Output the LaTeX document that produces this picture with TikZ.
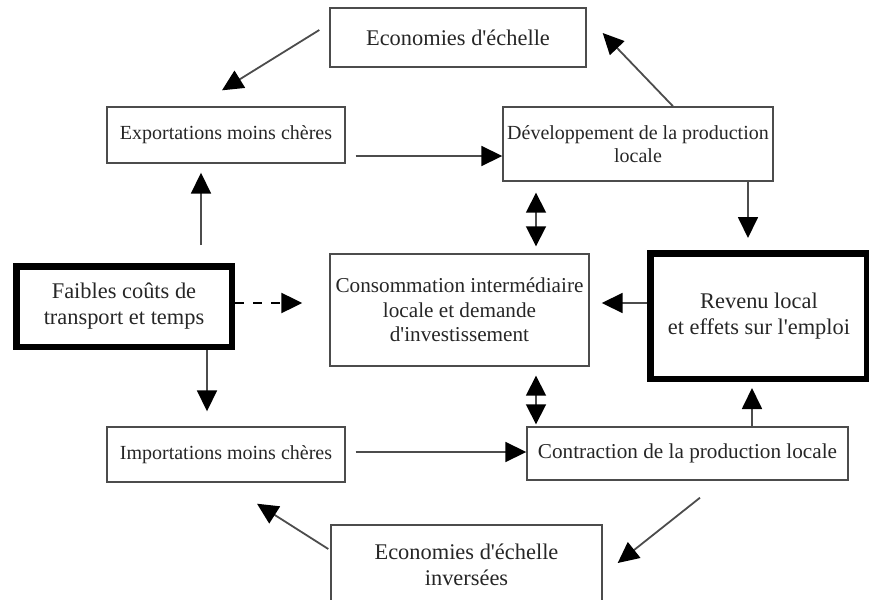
\documentclass[tikz,border=0pt]{standalone}
\usepackage{fontspec}
\setmainfont{Liberation Serif}
\usetikzlibrary{positioning,arrows.meta,calc}
\newcommand{\apos}{\textquotesingle}

\begin{document}
\begin{tikzpicture}[
  x=0.5pt, y=-0.5pt,
  box/.style={draw=black!70,line width=0.7pt,align=center,inner sep=1pt,text=black!85},
  thickbox/.style={draw=black,line width=3.25pt,align=center,inner sep=1pt,text=black!85},
  small/.style={font=\fontsize{10}{11.5}\selectfont},
  medium/.style={font=\fontsize{10.6}{12.2}\selectfont},
  large/.style={font=\fontsize{11.2}{13}\selectfont},
  arr/.style={draw=black!70,line width=0.9pt,-{Triangle[length=10.5pt,width=10pt,color=black]}},
  dbl/.style={draw=black!70,line width=0.9pt,{Triangle[length=10pt,width=10pt,color=black]}-{Triangle[length=10pt,width=10pt,color=black]}},
  dsh/.style={draw=black,line width=1.1pt,dash pattern=on 4.5pt off 4.5pt,-{Triangle[length=10.5pt,width=10pt,color=black]}}
]
\clip (0,0) rectangle (869,600);
\node[box,large,minimum width=128pt,minimum height=29.5pt] (eco) at (458,37.5) {Economies d\apos échelle};
\node[box,small,minimum width=119pt,minimum height=28pt] (export) at (226,135) {Exportations moins chères};
\node[box,small,minimum width=135pt,minimum height=37pt] (dev) at (638,144) {Développement de la production\\locale};
\node[thickbox,large,minimum width=107.75pt,minimum height=40.25pt] (faibles) at (124,306.5) {Faibles coûts de\\transport et temps};
\node[box,medium,minimum width=129.5pt,minimum height=56pt] (conso) at (459.5,310) {Consommation intermédiaire\\locale et demande\\d\apos investissement};
\node[thickbox,large,minimum width=108.5pt,minimum height=62.75pt] (revenu) at (759,316) {Revenu local\\et effets sur l\apos emploi};
\node[box,small,minimum width=119pt,minimum height=27.5pt] (import) at (226,454.5) {Importations moins chères};
\node[box,medium,minimum width=160.5pt,minimum height=26.5pt] (contr) at (687.5,453.5) {Contraction de la production locale};
\node[box,large,minimum width=135.5pt,minimum height=40pt] (inv) at (466.5,565) {Economies d\apos échelle\\inversées};

% upper loop
\draw[arr] ($(eco.west)+(-10,-7.5)$) -- ($(export.north)+(-4,-16)$);
\draw[arr] ($(export.east)+(10,21)$) -- ($(dev.west)+(0,12)$);
\draw[arr] ($(faibles.north)+(77,-18)$) -- ($(export.south)+(-25,9)$);
\draw[arr] ($(dev.north)+(35,0)$) -- ($(eco.east)+(16,-4.5)$);
\draw[dbl] ($(dev.south)+(-102,11)$) -- ($(conso.north)+(76.5,-7)$);
\draw[arr] ($(dev.south)+(110,0)$) -- ($(revenu.north)+(-11,-12)$);

% middle row
\draw[dsh] ($(faibles.east)+(0,-3.5)$) -- ($(conso.west)+(-27,-7)$);
\draw[arr] ($(revenu.west)+(0,-13)$) -- ($(conso.east)+(12,-7)$);

% lower loop
\draw[arr] ($(faibles.south)+(83,0)$) -- ($(import.north)+(-19,-15)$);
\draw[dbl] ($(conso.south)+(76.5,9)$) -- ($(contr.north)+(-151.5,-2)$);
\draw[arr] ($(import.east)+(10,-2.5)$) -- ($(contr.west)+(0,-1.5)$);
\draw[arr] ($(contr.north)+(64.5,0)$) -- ($(revenu.south)+(-7,6)$);
\draw[arr] ($(contr.south)+(12.5,17)$) -- ($(inv.east)+(15,-2)$);
\draw[arr] ($(inv.west)+(-2,-16)$) -- ($(import.south)+(31,21)$);
\end{tikzpicture}
\end{document}
